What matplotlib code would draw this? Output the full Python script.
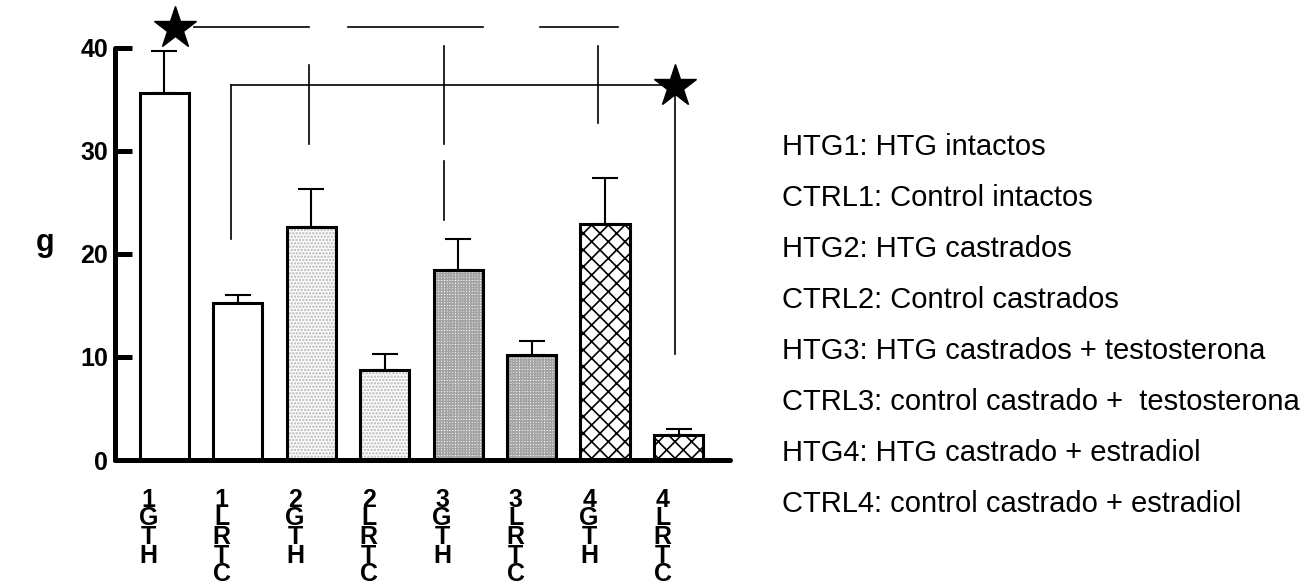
import numpy as np
import matplotlib
matplotlib.use("Agg")
import matplotlib.pyplot as plt
from matplotlib.transforms import ScaledTranslation

plt.rcParams['font.family'] = ['Liberation Sans', 'DejaVu Sans']
plt.rcParams['hatch.linewidth'] = 1.2

# data
groups = ["HTG1", "CTRL1", "HTG2", "CTRL2", "HTG3", "CTRL3", "HTG4", "CTRL4"]
means = [35.6, 15.2, 22.6, 8.7, 18.4, 10.2, 22.9, 2.4]
sem = [4.1, 0.8, 3.7, 1.6, 3.0, 1.3, 4.5, 0.6]
y_ticks = [0, 10, 20, 30, 40]

legend_lines = [
    "HTG1: HTG intactos",
    "CTRL1: Control intactos",
    "HTG2: HTG castrados",
    "CTRL2: Control castrados",
    "HTG3: HTG castrados + testosterona",
    "CTRL3: control castrado +  testosterona",
    "HTG4: HTG castrado + estradiol",
    "CTRL4: control castrado + estradiol",
]

# significance marks: (x0, x1, y0, y1)
sig_lines = [
    (0.40, 1.97, 42.0, 42.0),
    (2.50, 4.34, 42.0, 42.0),
    (5.11, 6.17, 42.0, 42.0),
    (0.915, 6.95, 36.4, 36.4),
    (0.915, 0.915, 21.4, 36.4),
    (1.97, 1.97, 30.7, 38.3),
    (3.81, 3.81, 30.7, 40.2),
    (3.81, 3.81, 23.3, 29.0),
    (5.90, 5.90, 32.7, 40.2),
    (6.95, 6.95, 10.3, 36.3),
]
star_x = [0.14, 6.95]
star_y = [41.9, 36.3]

hatches = ['', '', '.....', '.....', '++++++', '++++++', 'xx', 'xx']
hatch_cols = ['k', 'k', '#b4b4b4', '#b4b4b4', '#a4a4a4', '#a4a4a4', 'k', 'k']

fig = plt.figure(figsize=(13.12, 5.86), dpi=100)
ax = fig.add_axes([115 / 1312, 126 / 586, 615 / 1312, 453.6 / 586])

x = np.arange(len(groups))
w = 0.67

back = ax.bar(x, means, w, color='white', linewidth=0)
for p, h, c in zip(back, hatches, hatch_cols):
    p.set_hatch(h)
    p.set_edgecolor(c)
ax.bar(x, means, w, fill=False, edgecolor='k', linewidth=2.2, zorder=3)
ax.errorbar(x, means, yerr=[np.zeros(len(sem)), sem], fmt='none', ecolor='k',
            elinewidth=1.5, capsize=9.5, capthick=1.5, zorder=2)

for x0, x1, y0, y1 in sig_lines:
    ax.plot([x0, x1], [y0, y1], color='k', lw=1.2, clip_on=False)
ax.plot(star_x, star_y, linestyle='none', marker='*', markersize=32,
        color='k', clip_on=False, zorder=5)

ax.set_xlim(-0.67, 7.70)
ax.set_ylim(0, 44)
for s in ['top', 'right']:
    ax.spines[s].set_visible(False)
ax.spines['left'].set_bounds(0, 40)
for s in ['left', 'bottom']:
    ax.spines[s].set_linewidth(3.6)
    ax.spines[s].set_capstyle('round')

ax.set_yticks(y_ticks)
ax.tick_params(axis='y', direction='in', length=12, width=3.6, pad=5,
               labelsize=18)
for lbl in ax.get_yticklabels():
    lbl.set_fontweight('bold')

ax.set_xticks(x)
ax.set_xticklabels(["\n".join(reversed(g)) for g in groups], fontsize=18,
                   fontweight='bold', linespacing=0.72, va='top')
ax.tick_params(axis='x', length=0, pad=20)
shift = ScaledTranslation(-16 / 100, 0, fig.dpi_scale_trans)
for lbl in ax.get_xticklabels():
    lbl.set_transform(lbl.get_transform() + shift)

ax.set_ylabel('g', rotation=0, fontsize=22, fontweight='bold')
ax.yaxis.set_label_coords(-0.114, 0.445)

for i, line in enumerate(legend_lines):
    fig.text(782 / 1312, 1 - (147 + 51 * i) / 586, line, fontsize=21,
             va='center', ha='left')

fig.savefig("out.png", dpi=100)
